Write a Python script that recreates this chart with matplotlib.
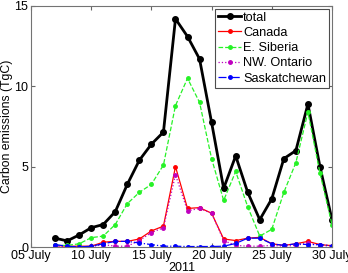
import matplotlib
matplotlib.use("Agg")
import matplotlib.pyplot as plt
import numpy as np

plt.rcParams['font.family'] = ['Liberation Sans', 'DejaVu Sans']

days = list(range(7, 31))
total = [0.55, 0.38, 0.75, 1.2, 1.4, 2.2, 3.9, 5.4, 6.4, 7.15, 14.2, 13.1, 11.7, 7.75,
         3.65, 5.67, 3.4, 1.7, 3.0, 5.5, 6.0, 8.9, 5.0, 1.7]
canada = [0.1, 0.05, 0.05, 0.05, 0.3, 0.35, 0.35, 0.5, 1.0, 1.3, 5.0, 2.4, 2.45, 2.1,
          0.5, 0.4, 0.55, 0.6, 0.2, 0.1, 0.2, 0.35, 0.15, 0.08]
siberia = [0.1, 0.1, 0.2, 0.58, 0.68, 1.4, 2.7, 3.4, 3.9, 5.1, 8.8, 10.5, 9.0, 5.5,
           2.9, 4.7, 2.5, 0.68, 1.1, 3.4, 5.25, 8.4, 4.6, 1.4]
ontario = [0.05, 0.02, 0.02, 0.02, 0.15, 0.05, 0.05, 0.4, 0.9, 1.2, 4.5, 2.25, 2.4, 2.1,
           0.4, 0.1, 0.05, 0.05, 0.1, 0.05, 0.1, 0.25, 0.1, 0.05]
sask = [0.15, 0.05, 0.0, 0.05, 0.2, 0.35, 0.35, 0.25, 0.15, 0.05, 0.05, 0.03, 0.03, 0.03,
        0.05, 0.22, 0.55, 0.55, 0.2, 0.1, 0.2, 0.15, 0.15, 0.08]
xticks = [5, 10, 15, 20, 25, 30]
xticklabels = ['05 July', '10 July', '15 July', '20 July', '25 July', '30 July']
yticks = [0, 5, 10, 15]

fig = plt.figure(figsize=(3.48, 2.73), dpi=100)
ax = fig.add_axes([31/348, 26/273, 301/348, 241/273])

ax.plot(days, total, '-', color='black', lw=2, marker='o', ms=4, label='total')
ax.plot(days, canada, '-', color='red', lw=0.9, marker='.', ms=5, label='Canada')
ax.plot(days, siberia, '--', color=(0.15, 0.95, 0.15), lw=0.9, marker='.', ms=5, label='E. Siberia')
ax.plot(days, ontario, ':', color=(0.75, 0, 0.75), lw=0.9, marker='.', ms=5, label='NW. Ontario')
ax.plot(days, sask, '-.', color='blue', lw=0.9, marker='.', ms=5, label='Saskatchewan')

ax.set_xlim(5, 30)
ax.set_ylim(0, 15)
ax.set_xticks(xticks)
ax.set_xticklabels(xticklabels)
ax.set_yticks(yticks)
ax.tick_params(direction='in', top=True, right=True, labelsize=9, length=3,
               color='0.4', pad=2)
for s in ax.spines.values():
    s.set_color('0.45')
    s.set_linewidth(0.8)
ax.set_xlabel('2011', fontsize=9, labelpad=0)
ax.set_ylabel('Carbon emissions (TgC)', fontsize=8.8)
ax.yaxis.set_label_coords(-0.06, 0.5)

leg = ax.legend(loc='upper right', fontsize=9.2, handlelength=1.8, handletextpad=0.15,
                borderpad=0.25, labelspacing=0.25, fancybox=False, framealpha=1,
                borderaxespad=0.2)
leg.get_frame().set_edgecolor('0.3')
leg.get_frame().set_linewidth(0.8)

fig.savefig('out.png', dpi=100)
